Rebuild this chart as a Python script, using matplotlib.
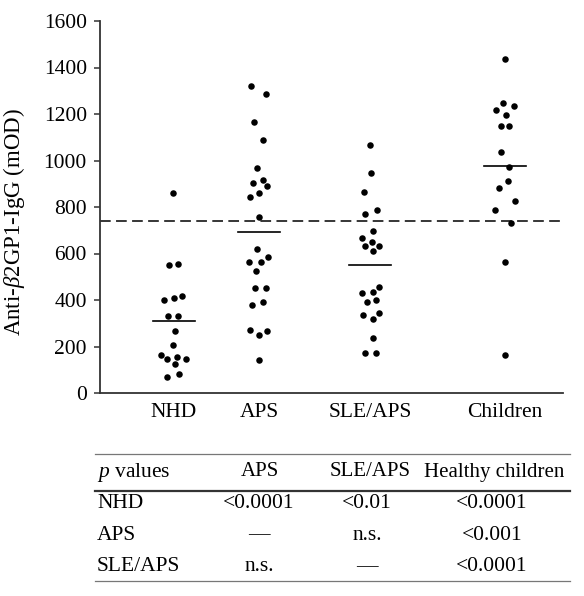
import matplotlib
matplotlib.use("Agg")
import matplotlib.pyplot as plt
import numpy as np

plt.rcParams["font.family"] = ["Liberation Serif", "DejaVu Serif"]
plt.rcParams["mathtext.fontset"] = "custom"
plt.rcParams["mathtext.rm"] = "Liberation Serif"
plt.rcParams["mathtext.it"] = "Liberation Serif:italic"

# data (mOD)
groups = ["NHD", "APS", "SLE/APS", "Children"]
nhd = [859, 550, 555, 401, 408, 416, 331, 331, 268, 206, 162, 145, 155, 145, 126, 70, 83]
aps = [1320, 1285, 1164, 1087, 969, 902, 915, 889, 842, 860, 758, 618, 565, 562, 586,
       523, 452, 452, 380, 393, 271, 249, 268, 143]
sle_aps = [1067, 945, 863, 769, 789, 697, 665, 648, 632, 632, 612, 456, 431, 434, 390,
           399, 334, 345, 317, 235, 173, 173]
children = [1435, 1246, 1219, 1234, 1196, 1150, 1150, 1035, 972, 913, 880, 824, 786,
            731, 563, 165]
group_means = [311, 691, 549, 975]
cutoff = 740

# horizontal scatter of the dots (px)
nhd_dx = [-1, -5, 4, -10, 0, 8, -6, 4, 1, -1, -13, -7, 3, 12, 1, -7, 5]
aps_dx = [-8, 7, -5, 4, -2, -6, 4, 8, -9, 0, 0, -2, -10, 2, 9, -3, -4, 7, -7, 4, -9, 0, 8, 0]
sle_dx = [0, 1, -6, -5, 7, 3, -8, 2, -5, 9, 3, 9, -8, 3, -3, 6, -7, 9, 3, 3, -5, 6]
children_dx = [0, -2, -9, 9, 1, -4, 4, -4, 4, 3, -6, 10, -10, 6, 0, 0]

table_cols = ["APS", "SLE/APS", "Healthy children"]
table_rows = ["NHD", "APS", "SLE/APS"]
table_vals = [["<0.0001", "<0.01", "<0.0001"],
              ["\u2014", "n.s.", "<0.001"],
              ["n.s.", "\u2014", "<0.0001"]]

W, H = 584, 596
fig = plt.figure(figsize=(W / 100, H / 100), dpi=100)
ax = fig.add_axes([100 / W, 1 - 393 / H, 463 / W, 372 / H])

xpos = [74, 159, 270, 405]
series = [nhd, aps, sle_aps, children]
offsets = [nhd_dx, aps_dx, sle_dx, children_dx]
for x0, vals, dx, m in zip(xpos, series, offsets, group_means):
    ax.scatter(x0 + np.array(dx), vals, s=22, color="black", zorder=3, linewidths=0)
    ax.plot([x0 - 21, x0 + 21], [m, m], color="black", lw=1.2)

ax.axhline(cutoff, color="black", lw=1.1, dashes=(7, 3.5))

ax.set_xlim(0, 463)
ax.set_ylim(0, 1600)
ax.set_yticks(range(0, 1601, 200))
ax.set_xticks(xpos)
ax.set_xticklabels(groups, fontsize=15.5)
ax.tick_params(axis="x", length=0, pad=7)
ax.tick_params(axis="y", length=4.5, width=1.1, labelsize=15.5, pad=5, color="#333333")
for s in ["top", "right"]:
    ax.spines[s].set_visible(False)
for s in ["left", "bottom"]:
    ax.spines[s].set_linewidth(1.3)
    ax.spines[s].set_color("#333333")
ax.set_ylabel(r"Anti-$\it{\beta}$2GP1-IgG (mOD)", fontsize=16.5)
ax.yaxis.set_label_coords(-0.158, 0.46)

# p value table underneath
def fy(py):
    return 1 - py / H

def fx(px):
    return px / W

fig.add_artist(plt.Line2D([fx(95), fx(570)], [fy(454), fy(454)], color="#777777", lw=0.9))
fig.add_artist(plt.Line2D([fx(95), fx(570)], [fy(490.5), fy(490.5)], color="#333333", lw=1.6))
fig.add_artist(plt.Line2D([fx(95), fx(570)], [fy(581), fy(581)], color="#777777", lw=0.9))

fig.text(fx(97), fy(472), r"$p$ values", fontsize=15.5, va="center", ha="left")
head_x = [260, 370, 494]
val_x = [259, 367, 492]
for hx, c in zip(head_x, table_cols):
    fig.text(fx(hx), fy(472), c, fontsize=15, va="center", ha="center")
row_y = [503, 535, 566.5]
for ry, r, vals in zip(row_y, table_rows, table_vals):
    fig.text(fx(97), fy(ry), r, fontsize=15.5, va="center", ha="left")
    for vx, v in zip(val_x, vals):
        fig.text(fx(vx), fy(ry), v, fontsize=15.5, va="center", ha="center")

fig.savefig("out.png", dpi=100)
